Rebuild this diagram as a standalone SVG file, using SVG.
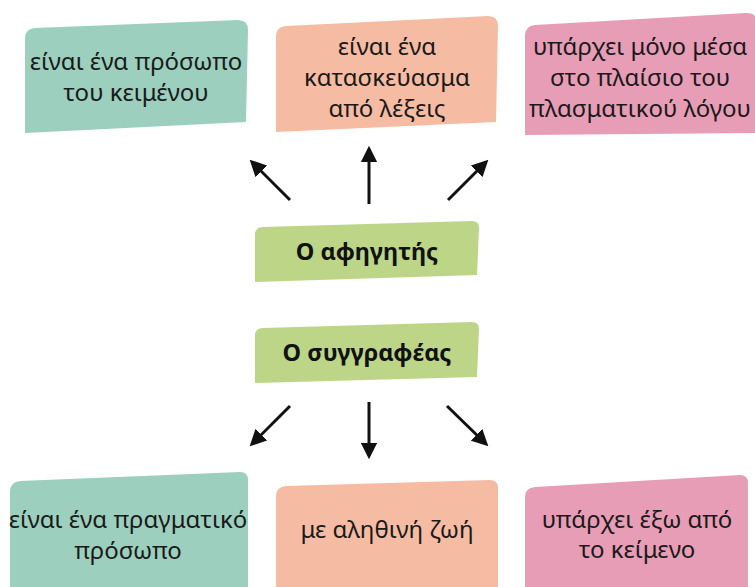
<svg xmlns="http://www.w3.org/2000/svg" width="755" height="587" viewBox="0 0 755 587">
<style>
.t{font-family:"Noto Sans","Open Sans",sans-serif;font-size:24px;fill:#1a1a1a;text-anchor:middle}
.b{font-family:"Noto Sans","Open Sans",sans-serif;font-size:23.5px;font-weight:bold;fill:#111;text-anchor:middle}
.teal{fill:#9ccfbe}.salmon{fill:#f6bca3}.pink{fill:#e89db7}.green{fill:#bcd586}
.c line{stroke:#111;stroke-width:3}
</style>
<defs>
<marker id="ah" viewBox="0 0 10 10" refX="8" refY="5" markerWidth="5.5" markerHeight="5.5" orient="auto" markerUnits="strokeWidth">
<path d="M0,0 L10,5 L0,10 z" fill="#111"/>
</marker>
</defs>
<rect width="755" height="587" fill="#fff"/>
<g id="n1"><path class="teal" d="M25,38 Q25,29 35,28 L238,20 Q248,20 248,30 L246,122 L25,133 Z"/>
<text class="t" x="136" y="70">είναι ένα πρόσωπο</text><text class="t" x="136" y="101">του κειμένου</text></g>
<g id="n2"><path class="salmon" d="M276,36 Q276,27 286,26 L488,16 Q498,16 498,26 L496,122 L276,132 Z"/>
<text class="t" x="387" y="55">είναι ένα</text><text class="t" x="387" y="86">κατασκεύασμα</text><text class="t" x="387" y="117">από λέξεις</text></g>
<g id="n3"><path class="pink" d="M525,36 Q525,26 535,25 L746,13 Q756,13 756,20 L756,133 L525,135 Z"/>
<text class="t" x="640" y="55">υπάρχει μόνο μέσα</text><text class="t" x="640" y="86">στο πλαίσιο του</text><text class="t" x="640" y="117">πλασματικού λόγου</text></g>
<g id="n4"><path class="green" d="M255,235 Q255,227 263,227 L472,221 Q479,221 479,228 L477,275 L255,282 Z"/>
<text class="b" x="367" y="260">Ο αφηγητής</text></g>
<g id="n5"><path class="green" d="M255,336 Q255,328 263,328 L472,322 Q479,322 479,329 L477,377 L255,383 Z"/>
<text class="b" x="367" y="361">Ο συγγραφέας</text></g>
<g id="n6"><path class="teal" d="M10,492 Q10,482 20,481 L240,472 Q248,472 248,480 L248,587 L10,587 Z"/>
<text class="t" x="128" y="528">είναι ένα πραγματικό</text><text class="t" x="128" y="559">πρόσωπο</text></g>
<g id="n7"><path class="salmon" d="M276,496 Q276,487 286,486 L490,480 Q498,480 498,488 L498,587 L276,587 Z"/>
<text class="t" x="387" y="538">με αληθινή ζωή</text></g>
<g id="n8"><path class="pink" d="M525,497 Q525,488 535,487 L740,475 Q748,475 748,483 L748,587 L525,587 Z"/>
<text class="t" x="637" y="528">υπάρχει έξω από</text><text class="t" x="637" y="558">το κείμενο</text></g>
<g id="connectors" class="c">
<line x1="290" y1="200" x2="252" y2="162" marker-end="url(#ah)"/>
<line x1="369" y1="204" x2="369" y2="149" marker-end="url(#ah)"/>
<line x1="448" y1="200" x2="486" y2="162" marker-end="url(#ah)"/>
<line x1="290" y1="406" x2="252" y2="444" marker-end="url(#ah)"/>
<line x1="369" y1="402" x2="369" y2="456" marker-end="url(#ah)"/>
<line x1="447" y1="406" x2="486" y2="444" marker-end="url(#ah)"/>
</g>
</svg>
